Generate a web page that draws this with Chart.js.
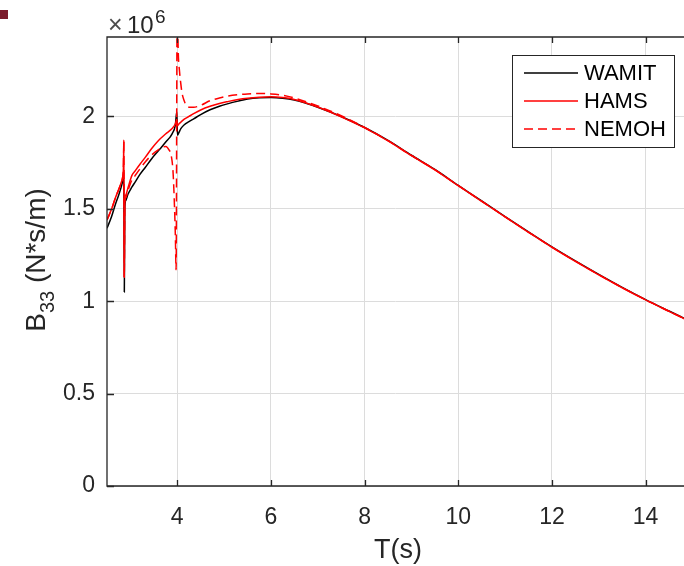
<!DOCTYPE html>
<html>
<head>
<meta charset="utf-8">
<script src="https://cdn.jsdelivr.net/npm/chart.js@4.4.0/dist/chart.umd.min.js"></script>
<style>
  html, body { margin: 0; padding: 0; background: #fff; overflow: hidden; }
  #wrap { position: relative; width: 684px; height: 566px; }
</style>
</head>
<body>
<div id="wrap"><canvas id="b33Chart" width="684" height="566"></canvas></div>
<script>
// tick values (y in units of 10^6 N*s/m)
const xTicks = [4, 6, 8, 10, 12, 14];
const yTicks = [0, 0.5, 1, 1.5, 2];

// WAMIT
const wamitT = [2.5, 2.6, 2.68, 2.75, 2.8, 2.83, 2.85, 2.857, 2.87, 2.88, 2.9, 2.95, 3.03, 3.1, 3.2, 3.32, 3.45, 3.6, 3.75,
  3.89, 3.96, 3.99, 4.005, 4.03, 4.08, 4.15, 4.25, 4.35, 4.5, 4.7, 4.9, 5.07, 5.3, 5.5, 5.75, 6.0, 6.25, 6.5, 6.75,
  7.0, 7.5, 8.0, 8.5, 9.0, 9.5, 10.0, 10.5, 11.0, 11.5, 12.0, 12.5, 13.0, 13.5, 14.0, 14.5, 14.9];
const wamitB = [1.395, 1.46, 1.525, 1.575, 1.615, 1.645, 1.67, 1.7, 1.05, 1.5, 1.545, 1.58, 1.617, 1.645, 1.685, 1.725, 1.77, 1.815, 1.86,
  1.906, 1.955, 2.025, 1.898, 1.91, 1.935, 1.955, 1.972, 1.987, 2.01, 2.036, 2.055, 2.068, 2.083, 2.094, 2.101, 2.103, 2.099, 2.089, 2.071,
  2.05, 2.0, 1.94, 1.87, 1.79, 1.713, 1.627, 1.543, 1.458, 1.375, 1.294, 1.218, 1.145, 1.075, 1.009, 0.947, 0.898];

// HAMS
const hamsT = [2.5, 2.6, 2.68, 2.75, 2.8, 2.83, 2.85, 2.86, 2.868, 2.88, 2.9, 2.95, 3.03, 3.1, 3.2, 3.32, 3.45, 3.6, 3.75,
  3.89, 3.96, 3.99, 4.005, 4.03, 4.08, 4.15, 4.25, 4.35, 4.5, 4.7, 4.9, 5.07, 5.3, 5.5, 5.75, 6.0, 6.25, 6.5, 6.75,
  7.0, 7.5, 8.0, 8.5, 9.0, 9.5, 10.0, 10.5, 11.0, 11.5, 12.0, 12.5, 13.0, 13.5, 14.0, 14.5, 14.9];
const hamsB = [1.44, 1.5, 1.56, 1.605, 1.64, 1.665, 1.72, 1.873, 1.13, 1.55, 1.575, 1.615, 1.68, 1.705, 1.74, 1.78, 1.825, 1.87, 1.905,
  1.935, 1.96, 1.985, 1.95, 1.958, 1.97, 1.985, 2.0, 2.015, 2.035, 2.055, 2.07, 2.08, 2.092, 2.099, 2.104, 2.106, 2.102, 2.092, 2.073,
  2.051, 1.998, 1.938, 1.868, 1.788, 1.711, 1.625, 1.541, 1.456, 1.373, 1.292, 1.216, 1.143, 1.073, 1.007, 0.945, 0.896];

// NEMOH
const nemohT = [2.5, 2.6, 2.68, 2.75, 2.8, 2.83, 2.85, 2.86, 2.868, 2.88, 2.9, 2.95, 3.03, 3.1, 3.2, 3.32, 3.45, 3.6, 3.7,
  3.76, 3.82, 3.87, 3.91, 3.94, 3.96, 3.975, 4.0, 4.01, 4.02, 4.05, 4.07, 4.1, 4.14, 4.2, 4.28, 4.35, 4.5, 4.7, 4.9,
  5.07, 5.3, 5.5, 5.75, 6.0, 6.25, 6.5, 6.75, 7.0, 7.5, 8.0, 8.5, 9.0, 9.5, 10.0, 10.5, 11.0, 11.5, 12.0, 12.5, 13.0,
  13.5, 14.0, 14.5, 14.9];
const nemohB = [1.44, 1.5, 1.56, 1.605, 1.64, 1.665, 1.72, 1.87, 1.13, 1.54, 1.56, 1.6, 1.655, 1.68, 1.715, 1.755, 1.79, 1.82, 1.835,
  1.837, 1.82, 1.79, 1.7, 1.52, 1.35, 1.17, 2.7, 2.5, 2.36, 2.24, 2.19, 2.13, 2.09, 2.058, 2.05, 2.05, 2.06, 2.085, 2.1,
  2.11, 2.118, 2.122, 2.124, 2.122, 2.115, 2.1, 2.08, 2.057, 2.004, 1.941, 1.869, 1.789, 1.712, 1.626, 1.542, 1.457, 1.374, 1.293, 1.217, 1.144,
  1.074, 1.008, 0.946, 0.897];

const FONT = "'Liberation Sans', Arial, Helvetica, sans-serif";
const INK = '#262626';

const pts = (t, b) => t.map((x, i) => ({ x, y: b[i] }));

// box, inward ticks, axis titles, x10^6 note
const framePlugin = {
  id: 'frame',
  afterDatasetsDraw(chart) {
    const { ctx, chartArea: a, scales } = chart;
    ctx.save();
    ctx.strokeStyle = INK;
    ctx.lineWidth = 1.3;
    ctx.beginPath();
    ctx.moveTo(a.right + 2, a.top); ctx.lineTo(a.left, a.top);
    ctx.lineTo(a.left, a.bottom); ctx.lineTo(a.right + 2, a.bottom);
    ctx.stroke();
    ctx.beginPath();
    scales.x.ticks.forEach(t => {
      const px = Math.round(scales.x.getPixelForValue(t.value)) + 0.5;
      ctx.moveTo(px, a.bottom); ctx.lineTo(px, a.bottom - 6);
      ctx.moveTo(px, a.top); ctx.lineTo(px, a.top + 6);
    });
    scales.y.ticks.forEach(t => {
      const py = Math.round(scales.y.getPixelForValue(t.value)) + 0.5;
      ctx.moveTo(a.left, py); ctx.lineTo(a.left + 7, py);
    });
    ctx.stroke();

    ctx.fillStyle = INK;
    ctx.textBaseline = 'alphabetic';
    // x title
    ctx.font = `27px ${FONT}`;
    ctx.textAlign = 'center';
    ctx.fillText('T(s)', 398, 558);
    // y title with subscript
    ctx.save();
    ctx.translate(45, 260);
    ctx.rotate(-Math.PI / 2);
    const main = 28, sub = 20;
    ctx.font = `${main}px ${FONT}`;
    const wB = ctx.measureText('B').width;
    const wRest = ctx.measureText(' (N*s/m)').width;
    ctx.font = `${sub}px ${FONT}`;
    const wSub = ctx.measureText('33').width;
    let x0 = -(wB + wSub + wRest) / 2;
    ctx.textAlign = 'left';
    ctx.font = `${main}px ${FONT}`;
    ctx.fillText('B', x0, 0);
    ctx.font = `${sub}px ${FONT}`;
    ctx.fillText('33', x0 + wB, 9);
    ctx.font = `${main}px ${FONT}`;
    ctx.fillText(' (N*s/m)', x0 + wB + wSub, 0);
    ctx.restore();
    // exponent note
    ctx.textAlign = 'left';
    ctx.fillStyle = '#4d4d4d';
    ctx.font = `25px ${FONT}`;
    ctx.fillText('\u00d7', 108, 33);
    ctx.fillStyle = INK;
    ctx.font = `24px ${FONT}`;
    ctx.fillText('10', 127, 33);
    ctx.font = `19px ${FONT}`;
    ctx.fillText('6', 155, 23);
    // small mark in the corner
    ctx.fillStyle = '#7b1c2c';
    ctx.fillRect(0, 10, 8, 9);
    ctx.restore();
  }
};

// legend box inside the axes
const legendPlugin = {
  id: 'boxLegend',
  afterDraw(chart) {
    const { ctx } = chart;
    const bx = 512.5, by = 55.5, bw = 162, bh = 92;
    ctx.save();
    ctx.fillStyle = '#ffffff';
    ctx.fillRect(bx, by, bw, bh);
    ctx.strokeStyle = INK;
    ctx.lineWidth = 1;
    ctx.strokeRect(bx, by, bw, bh);
    ctx.font = `22px ${FONT}`;
    ctx.textBaseline = 'middle';
    ctx.textAlign = 'left';
    chart.data.datasets.forEach((ds, i) => {
      const y = 73 + i * 28;
      ctx.strokeStyle = ds.borderColor;
      ctx.lineWidth = 1.5;
      ctx.setLineDash(ds.borderDash || []);
      ctx.beginPath();
      ctx.moveTo(524, y); ctx.lineTo(578, y);
      ctx.stroke();
      ctx.setLineDash([]);
      ctx.fillStyle = '#000';
      ctx.fillText(ds.label, 584, y + 1);
    });
    ctx.restore();
  }
};

const lineDefaults = { pointRadius: 0, borderWidth: 1.5, cubicInterpolationMode: 'monotone', fill: false };

new Chart(document.getElementById('b33Chart'), {
  type: 'line',
  data: {
    datasets: [
      { ...lineDefaults, label: 'WAMIT', data: pts(wamitT, wamitB), borderColor: '#000000', order: 3 },
      { ...lineDefaults, label: 'HAMS', data: pts(hamsT, hamsB), borderColor: '#ff0000', order: 2 },
      { ...lineDefaults, label: 'NEMOH', data: pts(nemohT, nemohB), borderColor: '#ff0000', borderDash: [9, 5], order: 1 }
    ]
  },
  options: {
    responsive: false,
    animation: false,
    layout: { padding: { top: 37, right: 0, left: 0, bottom: 0 } },
    plugins: { legend: { display: false }, tooltip: { enabled: false } },
    scales: {
      x: {
        type: 'linear', min: 2.5, max: 14.82,
        afterBuildTicks: s => { s.ticks = xTicks.map(v => ({ value: v })); },
        afterFit: s => { s.height = 80; },
        grid: { color: '#dcdcdc', drawTicks: false },
        border: { display: false },
        ticks: { color: INK, font: { family: FONT, size: 23 }, padding: 18, maxRotation: 0, autoSkip: false, callback: v => String(v) }
      },
      y: {
        type: 'linear', min: 0, max: 2.43,
        afterBuildTicks: s => { s.ticks = yTicks.map(v => ({ value: v })); },
        afterFit: s => { s.width = 107; },
        grid: { color: '#dcdcdc', drawTicks: false },
        border: { display: false },
        ticks: { color: INK, font: { family: FONT, size: 23 }, padding: 12, autoSkip: false, callback: v => String(v) }
      }
    }
  },
  plugins: [framePlugin, legendPlugin]
});
</script>
</body>
</html>
